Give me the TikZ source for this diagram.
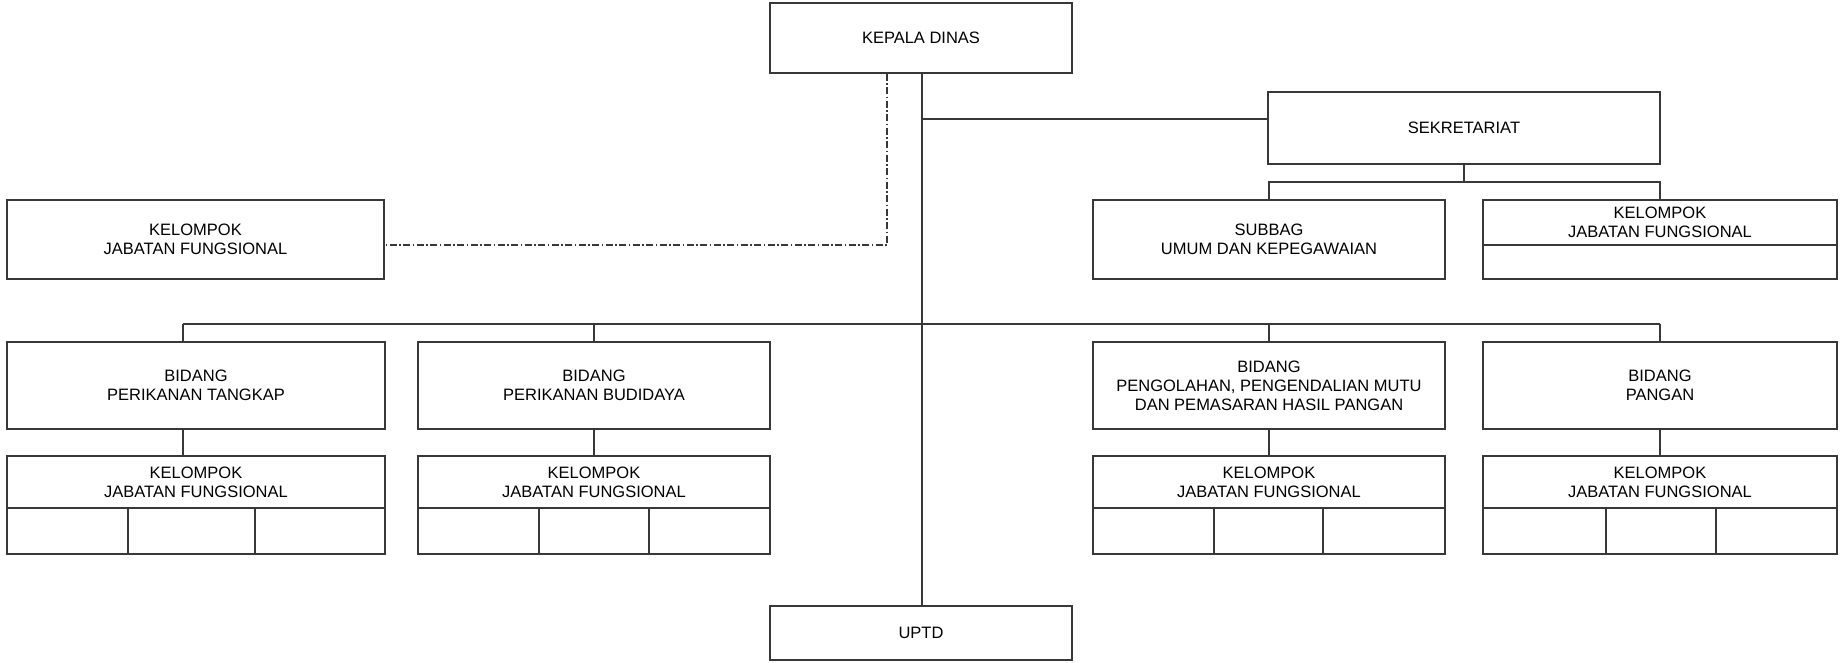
\documentclass[tikz,border=0pt]{standalone}
\usepackage{fontspec}
\setmainfont{Liberation Sans}
\begin{document}
\begin{tikzpicture}[x=1pt,y=-1pt,
  ln/.style={draw=black!78,line width=1.3pt},
  box/.style={ln,rectangle,inner sep=0pt,align=center,font=\fontsize{16.5}{19}\selectfont},
  txt/.style={inner sep=0pt,align=center,font=\fontsize{16.5}{19}\selectfont},
  dd/.style={ln,dash pattern=on 7pt off 2.5pt on 1.5pt off 2.5pt}]
\useasboundingbox (0,0) rectangle (1840,663);
% main boxes
\node[box,minimum width=302pt,minimum height=70pt] (kd) at (921,38) {KEPALA DINAS};
\node[box,minimum width=377pt,minimum height=79pt] (kjfL) at (195.5,239.5) {KELOMPOK\\JABATAN FUNGSIONAL};
\node[box,minimum width=392pt,minimum height=72pt] (sek) at (1464,128) {SEKRETARIAT};
\node[box,minimum width=352pt,minimum height=79pt] (sub) at (1269,239.5) {SUBBAG\\UMUM DAN KEPEGAWAIAN};
\node[box,minimum width=354pt,minimum height=79pt] (kjfS) at (1660,239.5) {};
\node[txt] (kjfSt) at (1660,222) {KELOMPOK\\JABATAN FUNGSIONAL};
\node[box,minimum width=378pt,minimum height=87pt] (b1) at (196,385.5) {BIDANG\\PERIKANAN TANGKAP};
\node[box,minimum width=352pt,minimum height=87pt] (b2) at (594,385.5) {BIDANG\\PERIKANAN BUDIDAYA};
\node[box,minimum width=352pt,minimum height=87pt] (b3) at (1269,385.5) {BIDANG\\PENGOLAHAN, PENGENDALIAN MUTU\\DAN PEMASARAN HASIL PANGAN};
\node[box,minimum width=354pt,minimum height=87pt] (b4) at (1660,385.5) {BIDANG\\PANGAN};
\node[box,minimum width=378pt,minimum height=98pt] (k1) at (196,505) {};
\node[box,minimum width=352pt,minimum height=98pt] (k2) at (594,505) {};
\node[box,minimum width=352pt,minimum height=98pt] (k3) at (1269,505) {};
\node[box,minimum width=354pt,minimum height=98pt] (k4) at (1660,505) {};
\node[txt] (k1t) at (196,482) {KELOMPOK\\JABATAN FUNGSIONAL};
\node[txt] (k2t) at (594,482) {KELOMPOK\\JABATAN FUNGSIONAL};
\node[txt] (k3t) at (1269,482) {KELOMPOK\\JABATAN FUNGSIONAL};
\node[txt] (k4t) at (1660,482) {KELOMPOK\\JABATAN FUNGSIONAL};
\node[box,minimum width=302pt,minimum height=54pt] (upt) at (921,633) {UPTD};
% inner dividers
\coordinate (dv) at (0,508);
\coordinate (dS) at (0,245);
\draw[ln] (kjfS.west |- dS) -- (kjfS.east |- dS);
\foreach \k/\a/\b in {k1/128/255,k2/539/649,k3/1214/1323,k4/1606/1716}{
  \draw[ln] (\k.west |- dv) -- (\k.east |- dv);
  \draw[ln] (\a,508) -- (\k.south -| \a,0);
  \draw[ln] (\b,508) -- (\k.south -| \b,0);
}
% connectors
\coordinate (j0) at (922,119);
\coordinate (busL) at (183,324);
\coordinate (busR) at (1660,324);
\coordinate (sb) at (1464,182);
\coordinate (dc) at (887,245);
\draw[ln] (kd.south -| j0) -- (upt.north -| j0);
\draw[ln] (j0) -- (sek.west |- j0);
\draw[ln] (busL) -- (busR);
\draw[ln] (busL) -- (b1.north -| busL);
\draw[ln] (b2.north |- busL) -- (b2.north);
\draw[ln] (b3.north |- busL) -- (b3.north);
\draw[ln] (busR) -- (b4.north);
\draw[ln] (b1.south -| busL) -- (k1.north -| busL);
\draw[ln] (b2.south) -- (k2.north);
\draw[ln] (b3.south) -- (k3.north);
\draw[ln] (b4.south) -- (k4.north);
\draw[ln] (sek.south) -- (sek.south |- sb);
\draw[ln] (sub.north) -- (sub.north |- sb) -- (kjfS.north |- sb) -- (kjfS.north);
\draw[dd] (kd.south -| dc) -- (dc) -- (kjfL.east |- dc);
\end{tikzpicture}
\end{document}
